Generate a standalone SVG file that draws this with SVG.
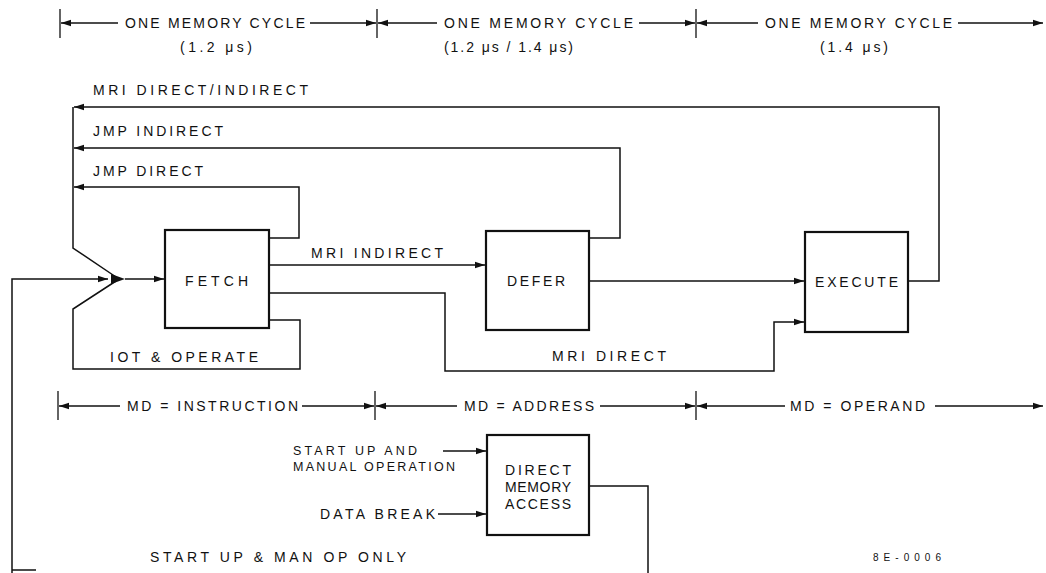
<svg xmlns="http://www.w3.org/2000/svg" width="1046" height="573" viewBox="0 0 1046 573">
<style>
text{font-family:"Liberation Sans",Arial,sans-serif;font-size:14px;fill:#111;}
.c{text-anchor:middle;}
.s{font-size:12.5px;}
.ln{fill:none;stroke:#111;stroke-width:1.5;}
.box{fill:#fff;stroke:#111;stroke-width:2.2;}
.tick{stroke:#111;stroke-width:1.3;}
</style>
<defs>
<marker id="ah" markerUnits="userSpaceOnUse" markerWidth="11" markerHeight="8" refX="10" refY="4" orient="auto">
<path d="M0,0.8 L10,4 L0,7.2 z" fill="#111"/>
</marker>
</defs>

<g id="timing-top">
<line class="tick" x1="60" y1="9" x2="60" y2="38"/>
<line class="tick" x1="377" y1="9" x2="377" y2="38"/>
<line class="tick" x1="696" y1="9" x2="696" y2="38"/>
<line class="ln" x1="118" y1="23" x2="61" y2="23" marker-end="url(#ah)"/>
<line class="ln" x1="310" y1="23" x2="376" y2="23" marker-end="url(#ah)"/>
<line class="ln" x1="437" y1="23" x2="378" y2="23" marker-end="url(#ah)"/>
<line class="ln" x1="639" y1="23" x2="695" y2="23" marker-end="url(#ah)"/>
<line class="ln" x1="758" y1="23" x2="697" y2="23" marker-end="url(#ah)"/>
<line class="ln" x1="958" y1="23" x2="1043" y2="23" marker-end="url(#ah)"/>
<text x="125" y="28" textLength="180" lengthAdjust="spacing">ONE MEMORY CYCLE</text>
<text x="180" y="52" textLength="72" lengthAdjust="spacing">(1.2 μs)</text>
<text x="444" y="28" textLength="189" lengthAdjust="spacing">ONE MEMORY CYCLE</text>
<text x="444" y="52" textLength="129" lengthAdjust="spacing">(1.2 μs / 1.4 μs)</text>
<text x="765" y="28" textLength="187" lengthAdjust="spacing">ONE MEMORY CYCLE</text>
<text x="820" y="52" textLength="68" lengthAdjust="spacing">(1.4 μs)</text>
</g>

<g id="timing-md">
<line class="tick" x1="58" y1="391" x2="58" y2="420"/>
<line class="tick" x1="375" y1="391" x2="375" y2="420"/>
<line class="tick" x1="696" y1="391" x2="696" y2="420"/>
<line class="ln" x1="120" y1="406" x2="59" y2="406" marker-end="url(#ah)"/>
<line class="ln" x1="302" y1="406" x2="374" y2="406" marker-end="url(#ah)"/>
<line class="ln" x1="457" y1="406" x2="376" y2="406" marker-end="url(#ah)"/>
<line class="ln" x1="600" y1="406" x2="695" y2="406" marker-end="url(#ah)"/>
<line class="ln" x1="785" y1="406" x2="697" y2="406" marker-end="url(#ah)"/>
<line class="ln" x1="935" y1="406" x2="1043" y2="406" marker-end="url(#ah)"/>
<text x="127" y="411" textLength="171" lengthAdjust="spacing">MD = INSTRUCTION</text>
<text x="464" y="411" textLength="130" lengthAdjust="spacing">MD = ADDRESS</text>
<text x="790" y="411" textLength="135" lengthAdjust="spacing">MD = OPERAND</text>
</g>

<g id="connectors">
<path class="ln" d="M908,281 H939 V107 H74" marker-end="url(#ah)"/>
<path class="ln" d="M589,238 H620 V148 H74" marker-end="url(#ah)"/>
<path class="ln" d="M269,238 H299 V187 H74" marker-end="url(#ah)"/>
<path class="ln" d="M73,107 V248 L116,277"/>
<path class="ln" d="M269,320 H300 V369 H73 V309 L116,281"/>
<polygon points="111,274 125,279 111,284" fill="#111"/>
<path class="ln" d="M125,279 H164" marker-end="url(#ah)"/>
<path class="ln" d="M12,573 V279 H108" marker-end="url(#ah)"/>
<path class="ln" d="M269,265 H485" marker-end="url(#ah)"/>
<path class="ln" d="M589,281 H804" marker-end="url(#ah)"/>
<path class="ln" d="M269,293 H445 V371 H774 V322 H804" marker-end="url(#ah)"/>
<path class="ln" d="M589,486 H648 V573"/>
<path class="ln" d="M12,570 H36"/>
<path class="ln" d="M443,451 H486" marker-end="url(#ah)"/>
<path class="ln" d="M438,514 H486" marker-end="url(#ah)"/>
</g>

<g id="labels">
<text x="93" y="95" textLength="215" lengthAdjust="spacing">MRI DIRECT/INDIRECT</text>
<text x="93" y="136" textLength="130" lengthAdjust="spacing">JMP INDIRECT</text>
<text x="93" y="176" textLength="110" lengthAdjust="spacing">JMP DIRECT</text>
<text x="311" y="258" textLength="132" lengthAdjust="spacing">MRI INDIRECT</text>
<text x="110" y="362" textLength="148" lengthAdjust="spacing">IOT &amp; OPERATE</text>
<text x="552" y="361" textLength="114" lengthAdjust="spacing">MRI DIRECT</text>
<text class="s" x="293" y="455" textLength="124" lengthAdjust="spacing">START UP AND</text>
<text class="s" x="293" y="471" textLength="162" lengthAdjust="spacing">MANUAL OPERATION</text>
<text x="320" y="519" textLength="115" lengthAdjust="spacing">DATA BREAK</text>
<text x="150" y="562" textLength="256" lengthAdjust="spacing">START UP &amp; MAN OP  ONLY</text>
<text x="873" y="561" textLength="68" lengthAdjust="spacing" style="font-size:10px">8E-0006</text>
</g>

<g id="fetch">
<rect class="box" x="165" y="230" width="104" height="98"/>
<text x="185" y="286" textLength="63" lengthAdjust="spacing">FETCH</text>
</g>
<g id="defer">
<rect class="box" x="486" y="231" width="103" height="99"/>
<text x="507" y="286" textLength="58" lengthAdjust="spacing">DEFER</text>
</g>
<g id="execute">
<rect class="box" x="805" y="232" width="103" height="100"/>
<text x="815" y="287" textLength="83" lengthAdjust="spacing">EXECUTE</text>
</g>
<g id="dma">
<rect class="box" x="487" y="435" width="102" height="100"/>
<text x="538" y="475" class="c" textLength="66" lengthAdjust="spacing">DIRECT</text>
<text x="538" y="492" class="c" textLength="66" lengthAdjust="spacing">MEMORY</text>
<text x="538" y="509" class="c" textLength="66" lengthAdjust="spacing">ACCESS</text>
</g>
</svg>
